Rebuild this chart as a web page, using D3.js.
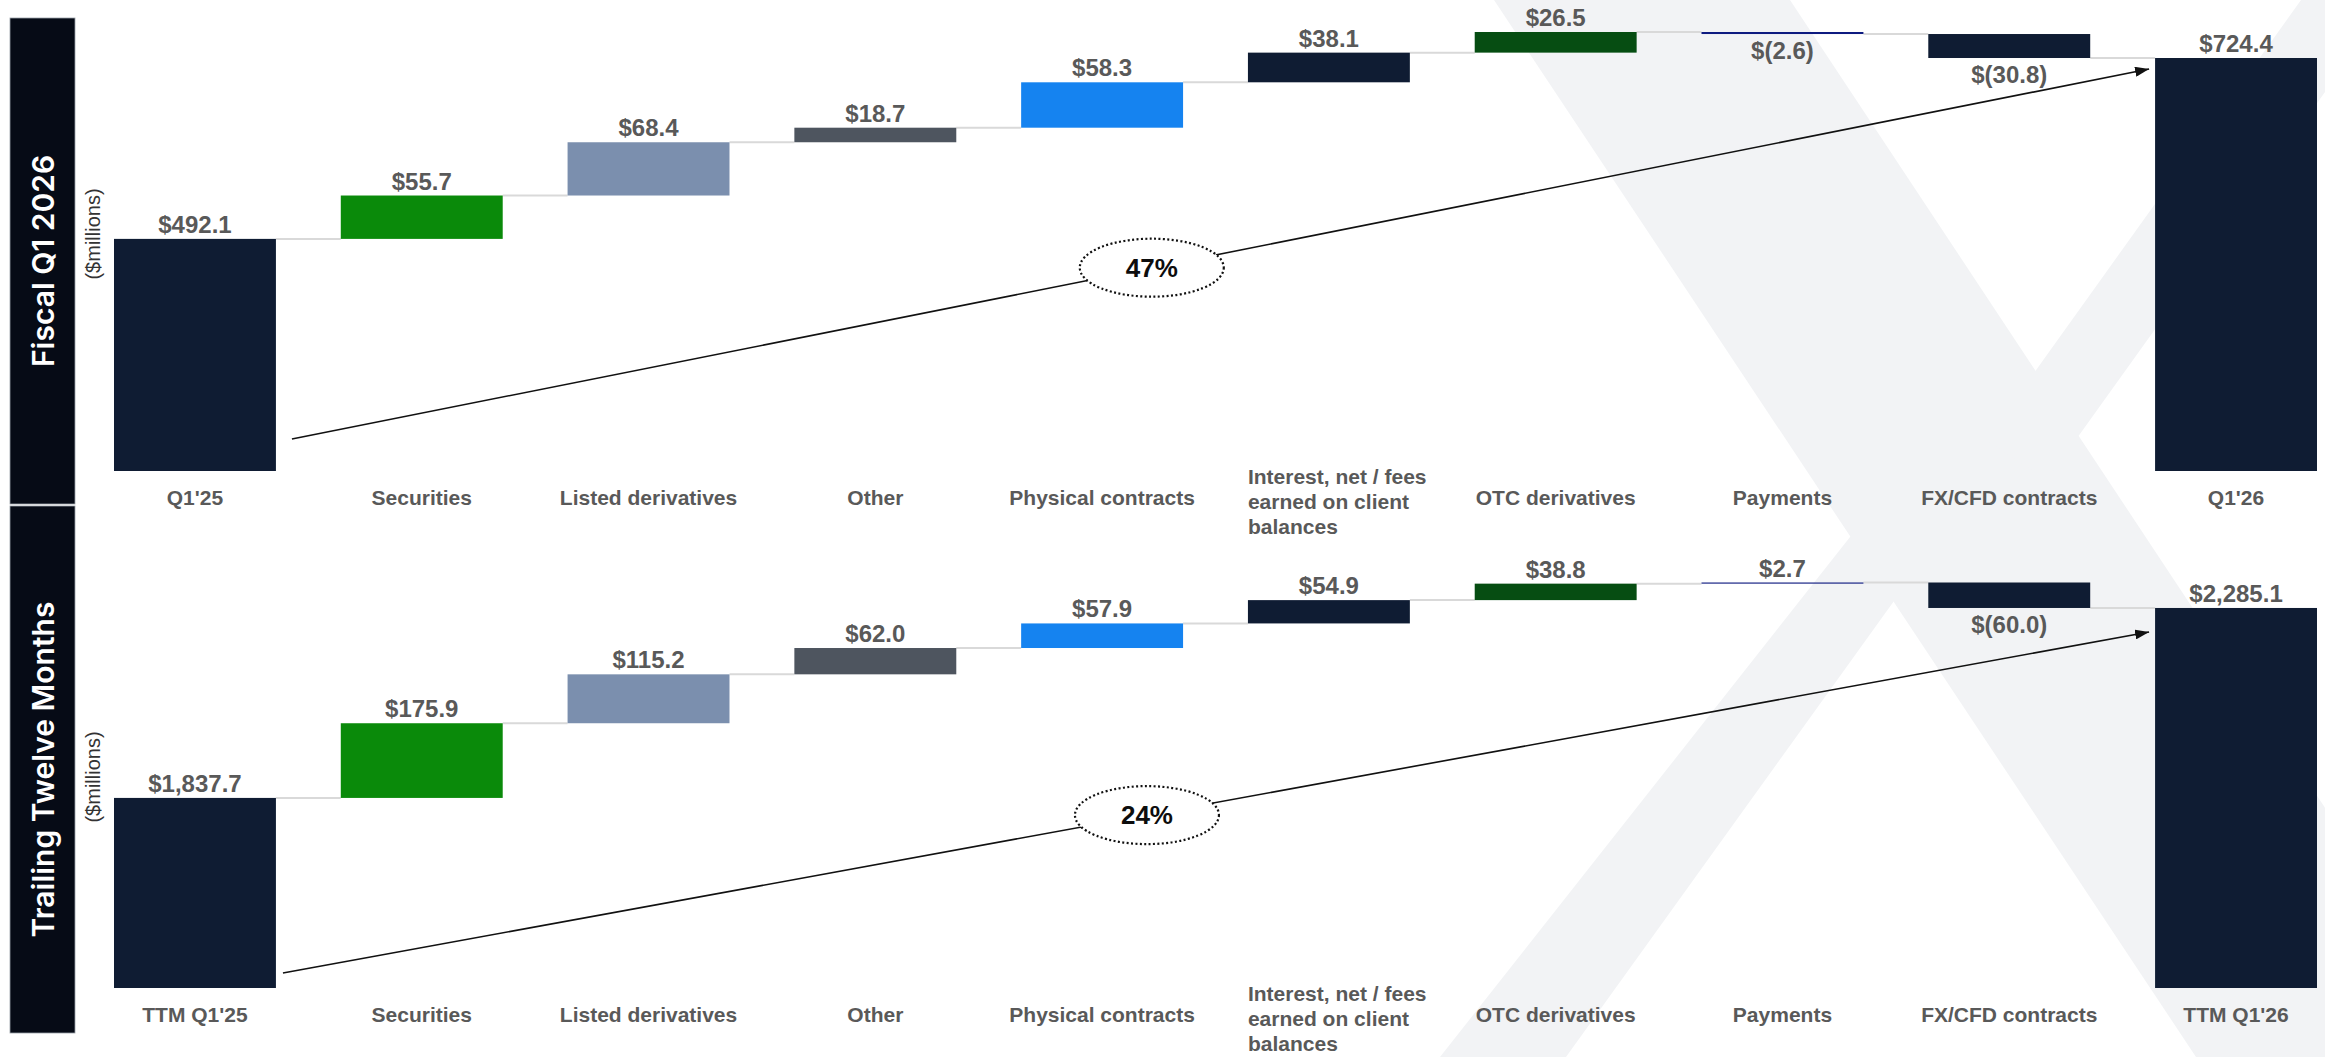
<!DOCTYPE html>
<html>
<head>
<meta charset="utf-8">
<script src="https://cdn.jsdelivr.net/npm/d3@7"></script>
<style>
  body { margin: 0; background: #fff; }
  svg { display: block; }
  .value-label { font-family: "Liberation Sans", Arial, sans-serif; font-weight: 700; font-size: 24px; fill: #595959; }
  .cat-label { font-family: "Liberation Sans", Arial, sans-serif; font-weight: 700; font-size: 21px; fill: #595959; }
  .panel-title { font-family: Inter, "Open Sans", sans-serif; font-weight: 600; font-size: 30px; fill: #fff; }
  .unit-label { font-family: "Liberation Sans", Arial, sans-serif; font-size: 20px; fill: #333; }
  .pct-label { font-family: "Liberation Sans", Arial, sans-serif; font-weight: 700; font-size: 26px; fill: #0d0d0d; }
</style>
</head>
<body>
<div id="chart"></div>
<script>
// ---- data ----
const categoriesQ = ["Q1'25", "Securities", "Listed derivatives", "Other", "Physical contracts",
    "Interest, net / fees earned on client balances", "OTC derivatives", "Payments", "FX/CFD contracts", "Q1'26"];
const categoriesTTM = ["TTM Q1'25", "Securities", "Listed derivatives", "Other", "Physical contracts",
    "Interest, net / fees earned on client balances", "OTC derivatives", "Payments", "FX/CFD contracts", "TTM Q1'26"];
const valuesQ = [492.1, 55.7, 68.4, 18.7, 58.3, 38.1, 26.5, -2.6, -30.8, 724.4];
const valuesTTM = [1837.7, 175.9, 115.2, 62.0, 57.9, 54.9, 38.8, 2.7, -60.0, 2285.1];
const barKinds = ["total", "step", "step", "step", "step", "step", "step", "step", "step", "total"];
const barColors = ["#0f1c33", "#0a8a0a", "#7b8fae", "#4e555f", "#1583f0", "#0f1c33", "#064d12", "#0e1b80", "#0f1c33", "#0f1c33"];
// value axis is truncated; these are the floors
const axisFloorQ = 194;
const axisFloorTTM = 1390;
const growthQ = "47%";
const growthTTM = "24%";

// background logo watermark (decoration)
const logoShapes = [
    [[1494, 0], [1790, 0], [2490, 1057], [2196, 1057]],
    [[2301, 0], [2391, 0], [2047, 480], [1986, 440]],
    [[1895, 480], [1981, 480], [1566, 1057], [1440, 1057]],
];

const W = 2325, H = 1057;

class WaterfallPanel {
    constructor(_config, _data) {
        this.config = _config;
        this.data = _data;
        this.initVis();
    }

    initVis() {
        let vis = this;
        const c = vis.config;

        vis.g = c.svg.append("g");

        vis.x = d3.scaleBand()
            .domain(d3.range(vis.data.values.length))
            .range([114, 2317])
            .paddingInner(0.286)
            .paddingOuter(0);

        // running totals
        let running = 0;
        vis.bars = vis.data.values.map((v, i) => {
            let d;
            if (barKinds[i] === "total") {
                d = { start: c.floor, end: v };
                running = v;
            } else {
                d = { start: running, end: running + v };
                running += v;
            }
            return Object.assign(d, { i, v, kind: barKinds[i], label: vis.data.categories[i] });
        });

        const maxCum = d3.max(vis.bars, (d) => Math.max(d.start, d.end));
        vis.y = d3.scaleLinear().domain([c.floor, maxCum]).range([c.baseline, c.plotTop]);

        vis.renderVis();
    }

    renderVis() {
        let vis = this;
        const c = vis.config;
        const bw = vis.x.bandwidth();
        const fmt = d3.format(",.1f");

        // side panel
        vis.g.append("rect")
            .attr("x", 10).attr("y", c.panelTop)
            .attr("width", 65).attr("height", c.panelBottom - c.panelTop)
            .attr("fill", "#060b16")
            .attr("stroke", "#9aa0a8").attr("stroke-width", 0.8);

        vis.g.append("text")
            .attr("class", "panel-title")
            .attr("transform", `translate(43,${(c.panelTop + c.panelBottom) / 2}) rotate(-90)`)
            .attr("text-anchor", "middle")
            .attr("dy", "0.36em")
            .text(c.title);

        vis.g.append("text")
            .attr("class", "unit-label")
            .attr("transform", `translate(93,${c.unitY}) rotate(-90)`)
            .attr("text-anchor", "middle")
            .attr("dy", "0.35em")
            .text("($millions)");

        // connectors
        vis.g.selectAll(".connector").data(vis.bars.slice(0, -1)).join("line")
            .attr("class", "connector")
            .attr("x1", (d) => vis.x(d.i) + bw)
            .attr("x2", (d) => vis.x(d.i + 1))
            .attr("y1", (d) => vis.y(d.end))
            .attr("y2", (d) => vis.y(d.end))
            .attr("stroke", "#d9d9d9")
            .attr("stroke-width", 2);

        // bars
        vis.g.selectAll(".bar").data(vis.bars).join("rect")
            .attr("class", "bar")
            .attr("x", (d) => vis.x(d.i))
            .attr("width", bw)
            .attr("y", (d) => vis.y(Math.max(d.start, d.end)))
            .attr("height", (d) => Math.max(1, Math.abs(vis.y(d.start) - vis.y(d.end))))
            .attr("fill", (d) => barColors[d.i]);

        // value labels
        vis.g.selectAll(".value-label").data(vis.bars).join("text")
            .attr("class", "value-label")
            .attr("x", (d) => vis.x(d.i) + bw / 2)
            .attr("y", (d) => d.v < 0 ? vis.y(d.end) + 25 : vis.y(Math.max(d.start, d.end)) - 6)
            .attr("text-anchor", "middle")
            .text((d) => d.v < 0 ? `$(${fmt(-d.v)})` : `$${fmt(d.v)}`);

        // category labels
        const labelY = c.baseline + 34;
        vis.g.selectAll(".cat-label").data(vis.bars).join("text")
            .attr("class", "cat-label")
            .attr("x", (d) => vis.x(d.i) + bw / 2)
            .attr("y", labelY)
            .attr("text-anchor", "middle")
            .text((d) => d.label)
            .each(function (d) { wrap(d3.select(this), 200, vis.x(d.i), labelY); });

        // growth arrow
        const first = vis.bars[0], last = vis.bars[vis.bars.length - 1];
        const p0 = [vis.x(first.i) + bw + c.arrowStart[0], c.baseline + c.arrowStart[1]];
        const p1 = [vis.x(last.i) + c.arrowEnd[0], vis.y(last.end) + c.arrowEnd[1]];
        vis.g.append("line")
            .attr("x1", p0[0]).attr("y1", p0[1])
            .attr("x2", p1[0]).attr("y2", p1[1])
            .attr("stroke", "#111")
            .attr("stroke-width", 1.6)
            .attr("marker-end", "url(#arrowhead)");

        const t = 0.463;
        const cx = p0[0] + (p1[0] - p0[0]) * t;
        const cy = p0[1] + (p1[1] - p0[1]) * t;
        vis.g.append("ellipse")
            .attr("cx", cx).attr("cy", cy)
            .attr("rx", 72).attr("ry", 29)
            .attr("fill", "#fff")
            .attr("stroke", "#111")
            .attr("stroke-width", 2.2)
            .attr("stroke-dasharray", "2,2.4");
        vis.g.append("text")
            .attr("class", "pct-label")
            .attr("x", cx).attr("y", cy)
            .attr("text-anchor", "middle")
            .attr("dy", "0.36em")
            .text(c.growth);
    }
}

function wrap(text, width, left, y) {
    const words = text.text().split(/\s+/);
    if (text.node().getComputedTextLength() <= width) return;
    const lines = [];
    let line = [];
    text.text(null);
    const probe = text.append("tspan");
    words.forEach((w) => {
        line.push(w);
        probe.text(line.join(" "));
        if (probe.node().getComputedTextLength() > width && line.length > 1) {
            line.pop();
            lines.push(line.join(" "));
            line = [w];
        }
    });
    lines.push(line.join(" "));
    probe.remove();
    text.attr("text-anchor", "start");
    lines.forEach((l, k) => {
        text.append("tspan")
            .attr("x", left)
            .attr("y", y - 21 + k * 25)
            .text(l);
    });
}

const svg = d3.select("#chart").append("svg")
    .attr("width", W)
    .attr("height", H);

svg.append("rect").attr("width", W).attr("height", H).attr("fill", "#fff");

svg.append("defs").append("marker")
    .attr("id", "arrowhead")
    .attr("markerUnits", "userSpaceOnUse")
    .attr("viewBox", "0 0 14 10")
    .attr("refX", 14).attr("refY", 5)
    .attr("markerWidth", 14).attr("markerHeight", 10)
    .attr("orient", "auto")
    .append("path")
    .attr("d", "M0,0L14,5L0,10Z")
    .attr("fill", "#111");

svg.append("g").selectAll("path").data(logoShapes).join("path")
    .attr("d", (d) => d3.line()(d) + "Z")
    .attr("fill", "#f2f3f5");

new WaterfallPanel({
    svg: svg, title: "Fiscal Q1 2026", growth: growthQ, floor: axisFloorQ,
    panelTop: 18, panelBottom: 504, unitY: 234, plotTop: 32, baseline: 471,
    arrowStart: [16, -32], arrowEnd: [-6, 11],
}, { categories: categoriesQ, values: valuesQ });

new WaterfallPanel({
    svg: svg, title: "Trailing Twelve Months", growth: growthTTM, floor: axisFloorTTM,
    panelTop: 506, panelBottom: 1033, unitY: 777, plotTop: 582.5, baseline: 988,
    arrowStart: [7, -15], arrowEnd: [-6, 24],
}, { categories: categoriesTTM, values: valuesTTM });
</script>
</body>
</html>
